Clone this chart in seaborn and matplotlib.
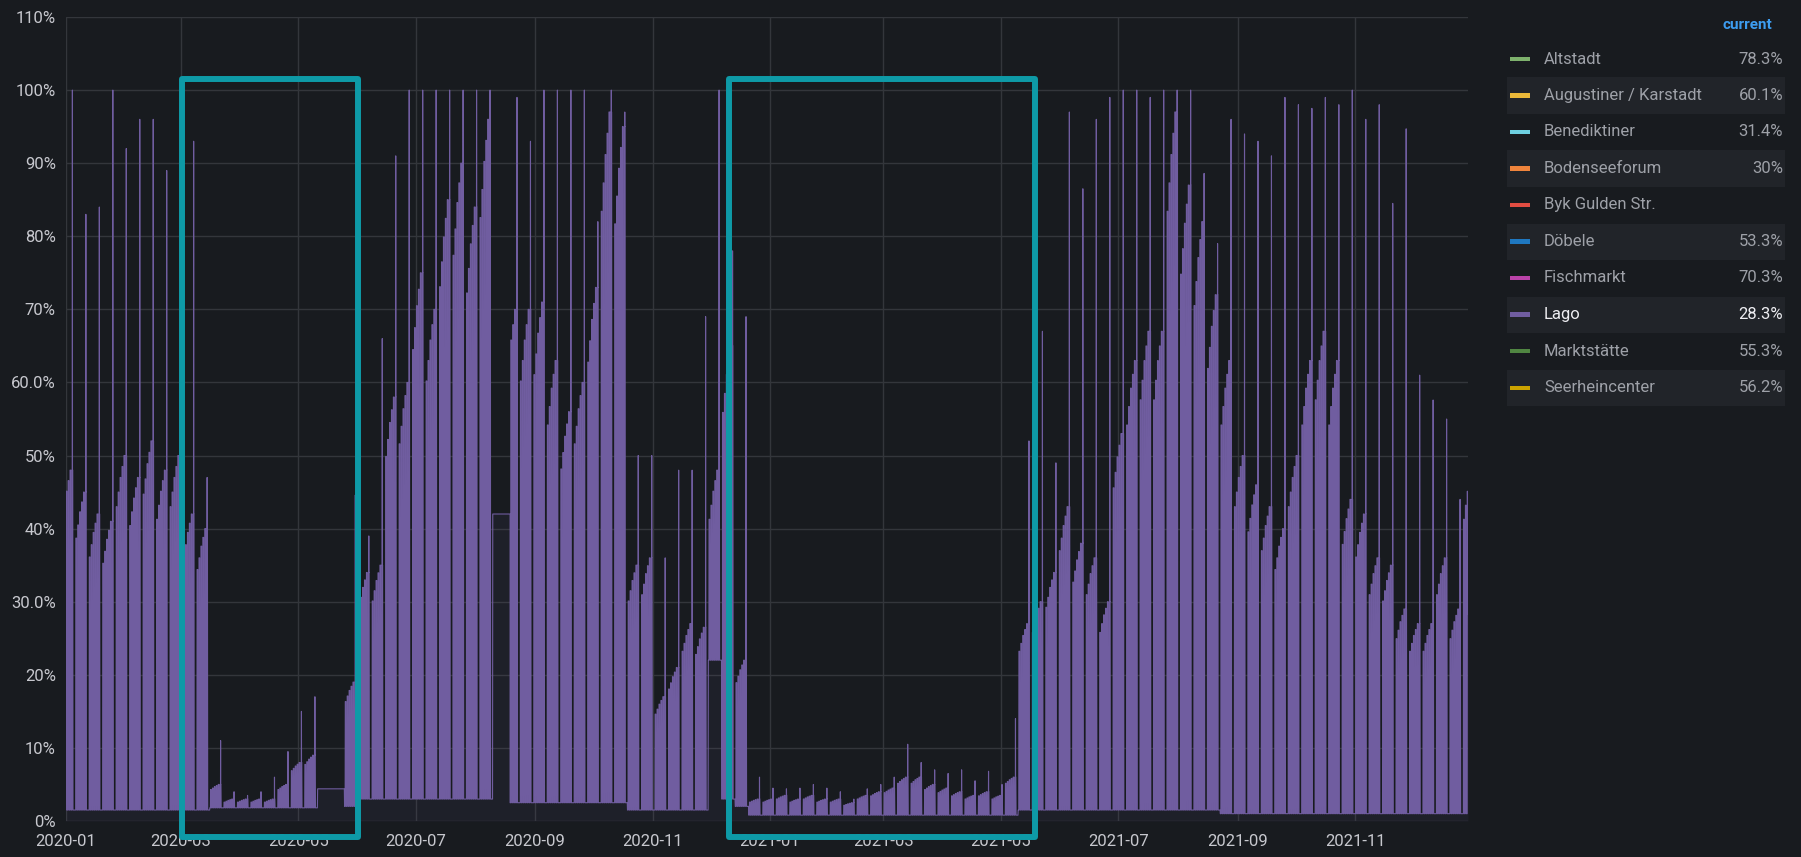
import numpy as np
import pandas as pd
import seaborn as sns
import matplotlib.pyplot as plt
from matplotlib.patches import Rectangle

#%% Data: Lago occupancy (%), read off the chart week by week (Mon..Sun, first week starts 2019-12-30)
week_peak = [100, 83, 84, 100, 92, 96, 96, 89, 59, 93,
             47, 11, 4, 3.5, 4, 6, 9.5, 15, 17, 6, 4.4,
             44.6, 39, 66, 91, 100, 100, 100, 100, 100, 100,
             100, 42, 99, 93, 100, 100, 100, 100, 82, 100,
             97, 50, 50, 36, 48, 48, 69, 100, 78, 69,
             6, 4.5, 4.4, 4.5, 5, 4.5, 4, 3, 4.4, 5,
             6, 10.5, 8, 7, 6.5, 7, 5.5, 6.8, 5, 14,
             52, 67, 49, 97, 86.5, 96, 99, 100, 100, 99,
             100, 100, 100, 88.6, 79, 96, 94, 93, 91, 99,
             98, 97.5, 99, 98, 100, 96, 98, 84.5, 94.7, 61,
             57.6, 55, 44, 50]
week_body = [48, 45, 42, 41, 50, 47, 52, 48, 50, 42,
             40, 5, 3, 3, 3, 3, 5, 8, 9, 4.4, 4.4,
             19, 34, 35, 58, 60, 75, 70, 85, 90, 84,
             96, 42, 70, 70, 71, 63, 56, 60, 73, 97,
             95, 35, 36, 17, 21, 27, 26.5, 48, 65, 22,
             3, 3, 3.5, 3, 3.5, 3, 3, 2.5, 3.5, 4,
             4.5, 6, 6, 5, 4.5, 4, 3.5, 4, 3.5, 6,
             27, 30, 34, 43, 38, 36, 30, 53, 63, 67,
             67, 97, 87, 82, 72, 63, 50, 46, 43, 40,
             50, 63, 67, 63, 44, 42, 36, 35, 29, 27,
             27, 36, 29, 48]
week_floor = [1.5] * 11 + [1.8] * 8 + [4.4, 4.4] + [2] + [3] * 10 + [4.4] + [2.5] * 9 \
    + [1.5] * 6 + [22, 3, 2] + [0.8] * 20 + [1.5] * 15 + [1.0] * 19

# relative daytime level Mon..Sat (jagged top of the weekly blocks); Sunday stays at the floor
weekday_level = [0.86, 0.9, 0.94, 0.97, 1.0, 1.0]

# periods without data (day numbers from 2020-01-01), drawn as a straight connection
gap_start = [132, 222]
gap_end = [144, 231]
gap_level = [4.4, 42]
last_value = 28.3

legend_names = ['Altstadt', 'Augustiner / Karstadt', 'Benediktiner', 'Bodenseeforum',
                'Byk Gulden Str.', 'Döbele', 'Fischmarkt', 'Lago', 'Marktstätte', 'Seerheincenter']
legend_current = ['78.3%', '60.1%', '31.4%', '30%', '', '53.3%', '70.3%', '28.3%', '55.3%', '56.2%']
legend_colors = ['#7EB26D', '#EAB839', '#6ED0E0', '#EF843C', '#E24D42',
                 '#1F78C1', '#BA43A9', '#705DA0', '#508642', '#CCA300']

y_ticks = list(range(0, 111, 10))
y_labels = ['0%', '10%', '20%', '30.0%', '40%', '50%', '60.0%', '70%', '80%', '90%', '100%', '110%']

#%% Build the time series (one trace per day: night floor, daytime level, Saturday peak)
start = pd.Timestamp('2020-01-01')
n_days = 729
times, vals = [], []
for d in range(n_days):
    if any(s <= d < e for s, e in zip(gap_start, gap_end)):
        for s, lev in zip(gap_start, gap_level):
            if d == s:
                times.append(start + pd.Timedelta(days=d)); vals.append(lev)
        continue
    for e, lev in zip(gap_end, gap_level):
        if d == e:
            times.append(start + pd.Timedelta(days=d)); vals.append(lev)
    w = (d + 2) // 7
    dow = (d + 2) % 7  # 0 = Monday
    fl, pk = week_floor[w], week_peak[w]
    if dow == 6:
        hrs, vv = [0, 21], [fl, fl]
    else:
        bo = max(fl, week_body[w] * weekday_level[dow])
        if d == n_days - 1:
            hrs, vv = [0, 7, 9, 16], [fl, fl, bo, last_value]
        elif dow == 5:
            hrs, vv = [0, 7, 9, 13, 14, 15, 18, 21], [fl, fl, bo, bo, pk, bo, bo, fl]
        else:
            hrs, vv = [0, 7, 9, 18, 21], [fl, fl, bo, bo, fl]
    for h, v in zip(hrs, vv):
        times.append(start + pd.Timedelta(days=d, hours=h))
        vals.append(v)

df = pd.DataFrame({'time': times, 'pct': vals})

#%% Plot
BG = '#181b1f'
GRID = '#33363b'
TICK = '#c7c8ce'
LAGO = '#705DA0'
TEAL = '#0e9aa7'
W, H = 1801, 857

sns.set_theme(style='dark', rc={'axes.facecolor': BG, 'figure.facecolor': BG,
                                'grid.color': GRID, 'text.color': TICK,
                                'xtick.color': TICK, 'ytick.color': TICK})
plt.rcParams['font.family'] = ['Roboto', 'DejaVu Sans']

fig = plt.figure(figsize=(W / 100, H / 100), dpi=100)
ax = fig.add_axes([65.5 / W, 1 - 821 / H, (1468 - 65.5) / W, (821 - 17) / H])

ax.fill_between(df['time'], df['pct'], color=LAGO, alpha=0.08, lw=0)
sns.lineplot(data=df, x='time', y='pct', ax=ax, color=LAGO, linewidth=0.8,
             estimator=None, sort=False)

ax.set_xlim(start, start + pd.Timedelta(days=728.7))
ax.set_ylim(0, 110)
ax.set_yticks(y_ticks)
ax.set_yticklabels(y_labels)
xt = pd.date_range('2020-01-01', '2021-11-01', freq='2MS')
ax.set_xticks(xt)
ax.set_xticklabels([t.strftime('%Y-%m') for t in xt])
ax.set_xlabel('')
ax.set_ylabel('')
ax.grid(True, color=GRID, lw=1)
for s in ax.spines.values():
    s.set_visible(False)
ax.tick_params(axis='x', length=0, labelsize=12, pad=9, colors=TICK)
ax.tick_params(axis='y', length=0, labelsize=12, pad=7, colors=TICK)

# teal highlight boxes
for x0, x1 in [(182, 358), (729, 1035)]:
    fig.add_artist(Rectangle((x0 / W, 1 - 836.5 / H), (x1 - x0) / W, (836.5 - 78.5) / H,
                             fill=False, ec=TEAL, lw=4.3, joinstyle='round',
                             transform=fig.transFigure, zorder=10))

# legend table
fig.text(1772 / W, 1 - 25 / H, 'current', color='#3d9df0', fontsize=11,
         fontweight='bold', ha='right', va='center')
for i, (name, cur, col) in enumerate(zip(legend_names, legend_current, legend_colors)):
    yc = 59 + i * 36.5
    if i % 2 == 1:
        fig.add_artist(Rectangle((1507 / W, 1 - (yc + 18) / H), 278 / W, 36 / H,
                                 fc='#212429', ec='none', transform=fig.transFigure))
    fig.add_artist(Rectangle((1510 / W, 1 - (yc + 2) / H), 20 / W, 4 / H,
                             fc=col, ec='none', transform=fig.transFigure))
    tc = '#eeeef2' if name == 'Lago' else '#9ea1a8'
    fig.text(1544 / W, 1 - yc / H, name, color=tc, fontsize=12, ha='left', va='center')
    fig.text(1783 / W, 1 - yc / H, cur, color=tc, fontsize=12, ha='right', va='center')

fig.savefig('out.png', dpi=100, facecolor=BG)
